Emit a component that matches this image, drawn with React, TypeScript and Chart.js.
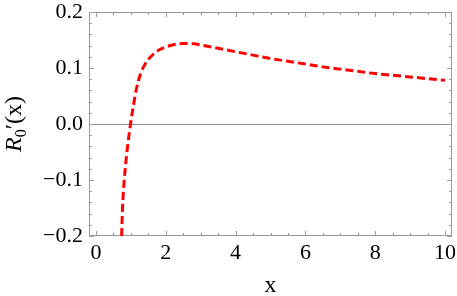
import React, { useEffect, useRef } from "react";
import { Chart, registerables } from "chart.js";

Chart.register(...registerables);

const xValues = [0.735, 0.76, 0.8, 0.85, 0.9, 0.95, 0.99, 1.06, 1.15, 1.28, 1.4, 1.5, 1.65, 1.8, 2.0, 2.2, 2.5, 2.8, 3.0, 3.5, 4.0, 4.5, 5.0, 5.5, 6.0, 6.5, 7.0, 7.5, 8.0, 8.5, 9.0, 9.5, 10.0];
const yValues = [-0.2, -0.15, -0.108, -0.072, -0.043, -0.018, 0.0, 0.028, 0.06, 0.09, 0.106, 0.115, 0.125, 0.132, 0.1375, 0.1412, 0.1437, 0.1431, 0.1412, 0.1352, 0.129, 0.123, 0.117, 0.112, 0.107, 0.102, 0.098, 0.094, 0.09, 0.087, 0.084, 0.081, 0.078];

const xTickValues = [0, 2, 4, 6, 8, 10];
const yTickValues = [-0.2, -0.1, 0.0, 0.1, 0.2];
const xMinorStep = 0.5;
const yMinorStep = 0.02;
const xRange = [-0.2, 10.2];
const yRange = [-0.2, 0.2];

const FRAME = "#9a9a9a";
const SERIF = "'Liberation Serif', 'DejaVu Serif', serif";

const framePlugin = {
  id: "mmaFrame",
  beforeDatasetsDraw(chart: any) {
    const { ctx, chartArea: a, scales } = chart;
    const xs = scales.x;
    const ys = scales.y;
    ctx.save();
    // zero line
    const y0 = Math.round(ys.getPixelForValue(0)) + 0.5;
    ctx.strokeStyle = "#8c8c8c";
    ctx.lineWidth = 1;
    ctx.beginPath();
    ctx.moveTo(a.left, y0);
    ctx.lineTo(a.right, y0);
    ctx.stroke();
    // frame
    ctx.strokeStyle = FRAME;
    ctx.strokeRect(a.left + 0.5, a.top + 0.5, a.right - a.left - 1, a.bottom - a.top - 1);
    // ticks
    ctx.beginPath();
    const nx = Math.round((xRange[1] - xRange[0]) / xMinorStep) + 2;
    for (let i = -1; i < nx; i++) {
      const v = Math.ceil(xRange[0] / xMinorStep) * xMinorStep + i * xMinorStep;
      if (v < xRange[0] || v > xRange[1]) continue;
      const major = xTickValues.some((t) => Math.abs(t - v) < 1e-6);
      const len = major ? 5 : 3;
      const px = Math.round(xs.getPixelForValue(v)) + 0.5;
      ctx.moveTo(px, a.bottom);
      ctx.lineTo(px, a.bottom - len);
      ctx.moveTo(px, a.top);
      ctx.lineTo(px, a.top + len);
    }
    const ny = Math.round((yRange[1] - yRange[0]) / yMinorStep);
    for (let i = 0; i <= ny; i++) {
      const v = yRange[0] + i * yMinorStep;
      const major = yTickValues.some((t) => Math.abs(t - v) < 1e-6);
      const len = major ? 5 : 3;
      const py = Math.round(ys.getPixelForValue(v)) + 0.5;
      ctx.moveTo(a.left, py);
      ctx.lineTo(a.left + len, py);
      ctx.moveTo(a.right, py);
      ctx.lineTo(a.right - len, py);
    }
    ctx.stroke();
    ctx.restore();
  },
  afterDraw(chart: any) {
    const { ctx, chartArea: a } = chart;
    ctx.save();
    ctx.fillStyle = "#000";
    // x title
    ctx.font = `24px ${SERIF}`;
    ctx.textAlign = "center";
    ctx.textBaseline = "alphabetic";
    ctx.fillText("x", (a.left + a.right) / 2, 292);
    // y title: R_0'(x)
    const cy = (a.top + a.bottom) / 2;
    ctx.translate(21, cy);
    ctx.rotate(-Math.PI / 2);
    ctx.textAlign = "left";
    const parts = [
      { t: "R", f: `italic 24px ${SERIF}`, dy: 0 },
      { t: "0", f: `16px ${SERIF}`, dy: 5 },
      { t: "\u2032(x)", f: `24px ${SERIF}`, dy: 0 },
    ];
    let total = 0;
    for (const p of parts) {
      ctx.font = p.f;
      total += ctx.measureText(p.t).width;
    }
    let x = -total / 2;
    for (const p of parts) {
      ctx.font = p.f;
      ctx.fillText(p.t, x, p.dy);
      x += ctx.measureText(p.t).width;
    }
    ctx.restore();
  },
};

export default function App() {
  const ref = useRef<HTMLCanvasElement | null>(null);
  useEffect(() => {
    if (!ref.current) return;
    const data = xValues.map((x, i) => ({ x, y: yValues[i] }));
    const chart = new Chart(ref.current, {
      type: "scatter",
      data: {
        datasets: [
          {
            data,
            showLine: true,
            borderColor: "#ff0000",
            borderWidth: 3,
            borderDash: [8, 4],
            pointRadius: 0,
            cubicInterpolationMode: "monotone",
            fill: false,
          } as any,
        ],
      },
      options: {
        responsive: false,
        animation: false,
        devicePixelRatio: 1,
        layout: { padding: { top: 12, right: 5, left: 0, bottom: 0 } },
        plugins: { legend: { display: false }, tooltip: { enabled: false } },
        scales: {
          x: {
            type: "linear",
            min: xRange[0],
            max: xRange[1],
            grid: { display: false, drawTicks: false },
            border: { display: false },
            afterBuildTicks: (s: any) => {
              s.ticks = xTickValues.map((v) => ({ value: v }));
            },
            afterFit: (s: any) => {
              s.height = 60;
              s.paddingLeft = 0;
              s.paddingRight = 0;
            },
            ticks: {
              padding: 4,
              color: "#000",
              font: { family: SERIF, size: 22 },
              maxRotation: 0,
              callback: (v: any) => String(v),
            },
          },
          y: {
            type: "linear",
            min: yRange[0],
            max: yRange[1],
            grid: { display: false, drawTicks: false },
            border: { display: false },
            afterBuildTicks: (s: any) => {
              s.ticks = yTickValues.map((v) => ({ value: v }));
            },
            afterFit: (s: any) => {
              s.width = 89;
              s.paddingTop = 0;
              s.paddingBottom = 0;
            },
            ticks: {
              padding: 6,
              color: "#000",
              font: { family: SERIF, size: 22 },
              callback: (v: any) => Number(v).toFixed(1).replace("-", "\u2212"),
            },
          },
        },
      },
      plugins: [framePlugin],
    });
    return () => chart.destroy();
  }, []);
  return (
    <div style={{ position: "fixed", left: 0, top: 0, width: 457, height: 296, background: "#fff" }}>
      <canvas ref={ref} width={457} height={296} />
    </div>
  );
}
